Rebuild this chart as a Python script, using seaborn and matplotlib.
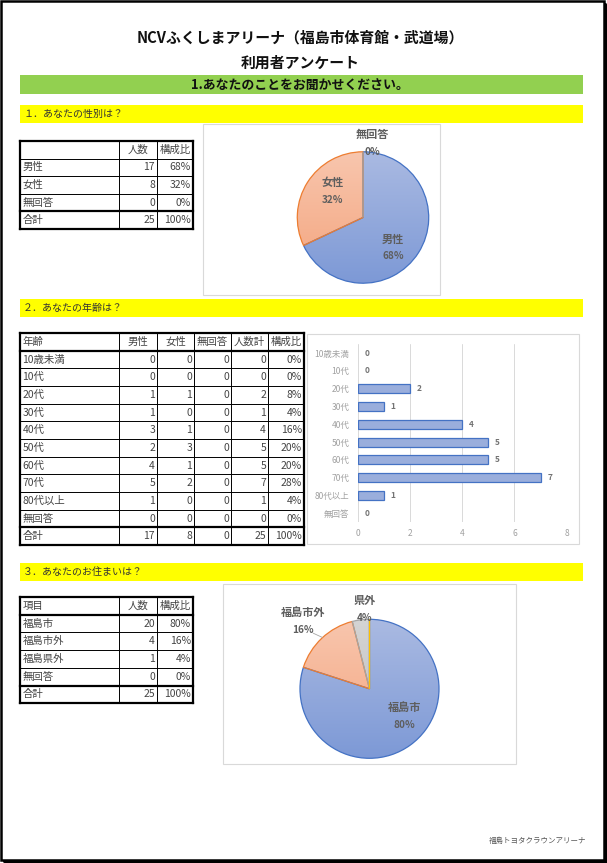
import numpy as np
import matplotlib
matplotlib.use('Agg')
from matplotlib import pyplot as plt
from matplotlib.patches import Rectangle
from matplotlib.colors import LinearSegmentedColormap
import seaborn as sns

# DATA
genders = ['男性', '女性', '無回答']
gender_counts = [17, 8, 0]

ages = ['10歳未満', '10代', '20代', '30代', '40代', '50代', '60代', '70代', '80代以上', '無回答']
age_male = [0, 0, 1, 1, 3, 2, 4, 5, 1, 0]
age_female = [0, 0, 1, 0, 1, 3, 1, 2, 0, 0]
age_noans = [0, 0, 0, 0, 0, 0, 0, 0, 0, 0]

residences = ['福島市', '福島市外', '福島県外', '無回答']
residence_pie_labels = ['福島市', '福島市外', '県外', '無回答']
residence_counts = [20, 4, 1, 0]

sns.set_theme(style='white')
plt.rcParams['font.family'] = ['Noto Sans CJK JP', 'DejaVu Sans']

W, H = 607, 863
fig = plt.figure(figsize=(W / 100, H / 100), dpi=100)
bg = fig.add_axes([0, 0, 1, 1])
bg.set_xlim(0, W)
bg.set_ylim(H, 0)
bg.axis('off')


def frac(x0, y0, x1, y1):
    return [x0 / W, 1 - y1 / H, (x1 - x0) / W, (y1 - y0) / H]


def pct(c, total):
    return f"{round(100 * c / total)}%"


# page frame
bg.add_patch(Rectangle((1.2, 1.2), W - 4.5, H - 4.5, fill=False, ec='black', lw=1.8))
bg.plot([W - 2, W - 2], [4, H - 1], color='black', lw=2.2)
bg.plot([4, W - 1], [H - 2, H - 2], color='black', lw=2.2)

# titles
bg.text(300, 38, 'NCVふくしまアリーナ（福島市体育館・武道場）', ha='center', va='center',
        fontsize=10.7, fontweight='bold', color='#111111')
bg.text(300, 63, '利用者アンケート', ha='center', va='center',
        fontsize=10.7, fontweight='bold', color='#111111')
bg.add_patch(Rectangle((20, 75), 563, 19, color='#92D050', lw=0))
bg.text(300, 84.5, '1.あなたのことをお聞かせください。', ha='center', va='center',
        fontsize=9.3, fontweight='bold', color='#111111')

for y, label in [(105, '１．あなたの性別は？'), (299, '２．あなたの年齢は？'), (563, '３．あなたのお住まいは？')]:
    bg.add_patch(Rectangle((20, y), 563, 18, color='#FFFF00', lw=0))
    bg.text(23, y + 9, label, ha='left', va='center', fontsize=7.2, color='#333333')

bg.text(538, 841, '福島トヨタクラウンアリーナ', ha='center', va='center', fontsize=5.4, color='#555555')

# chart boxes
for x0, y0, x1, y1 in [(203, 124, 440, 295), (307, 334, 579, 544), (223, 584, 516, 764)]:
    bg.add_patch(Rectangle((x0, y0), x1 - x0, y1 - y0, fill=False, ec='#D9D9D9', lw=0.8))


def draw_table(cols, y0, row_h, rows, thick):
    n = len(rows)
    for r, row in enumerate(rows):
        yc = y0 + (r + 0.5) * row_h
        for c, txt in enumerate(row):
            if c == 0:
                bg.text(cols[0] + 2.5, yc, txt, ha='left', va='center', fontsize=7.5, color='#444444')
            elif r == 0:
                bg.text((cols[c] + cols[c + 1]) / 2, yc, txt, ha='center', va='center', fontsize=7.5, color='#444444')
            else:
                bg.text(cols[c + 1] - 2, yc, txt, ha='right', va='center', fontsize=7.5, color='#444444')
    for i in range(n + 1):
        y = y0 + i * row_h
        lw = 1.6 if (i in (0, n) or i in thick) else 0.7
        bg.plot([cols[0], cols[-1]], [y, y], color='black', lw=lw, solid_capstyle='projecting')
    for j, x in enumerate(cols):
        lw = 1.6 if j in (0, len(cols) - 1) else 0.7
        bg.plot([x, x], [y0, y0 + n * row_h], color='black', lw=lw, solid_capstyle='projecting')


# table 1
g_total = sum(gender_counts)
rows1 = [['', '人数', '構成比']]
rows1 += [[g, str(c), pct(c, g_total)] for g, c in zip(genders, gender_counts)]
rows1 += [['合計', str(g_total), '100%']]
draw_table([20, 119, 157, 193], 141, 17.6, rows1, thick=[4])

# table 2
age_totals = [m + f + n for m, f, n in zip(age_male, age_female, age_noans)]
a_total = sum(age_totals)
rows2 = [['年齢', '男性', '女性', '無回答', '人数計', '構成比']]
for a, m, f, n, t in zip(ages, age_male, age_female, age_noans, age_totals):
    rows2.append([a, str(m), str(f), str(n), str(t), pct(t, a_total)])
rows2.append(['合計', str(sum(age_male)), str(sum(age_female)), str(sum(age_noans)), str(a_total), '100%'])
draw_table([20, 119, 157, 194, 231, 268, 304], 333, 17.67, rows2, thick=[1, 11])

# table 3
r_total = sum(residence_counts)
rows3 = [['項目', '人数', '構成比']]
rows3 += [[p, str(c), pct(c, r_total)] for p, c in zip(residences, residence_counts)]
rows3 += [['合計', str(r_total), '100%']]
draw_table([20, 119, 157, 193], 597, 17.7, rows3, thick=[1, 5])

# pies
edge_cols = ['#4472C4', '#ED7D31', '#A5A5A5', '#FFC000']
grads = [('#AABAE2', '#7D99D6'), ('#F8C6AE', '#F4A47D'), ('#D4D4D4', '#BEBEBE'), ('#FFD966', '#FFC000')]
grad = np.linspace(0, 1, 256).reshape(-1, 1)


def draw_pie(cx, cy, r, values, labels, label_pos):
    m = 1.5
    ax = fig.add_axes(frac(cx - m * r, cy - m * r, cx + m * r, cy + m * r))
    wedges, _ = ax.pie(values, startangle=90, counterclock=False, radius=1,
                       wedgeprops=dict(linewidth=0.9))
    for w, ec, (c1, c2) in zip(wedges, edge_cols, grads):
        w.set_facecolor('none')
        w.set_edgecolor(ec)
        im = ax.imshow(grad, cmap=LinearSegmentedColormap.from_list('g', [c1, c2]),
                       extent=(-1, 1, -1, 1), aspect='auto', zorder=0.5)
        im.set_clip_path(w)
    total = sum(values)
    dy = 8.7 / r
    for lab, v, pos in zip(labels, values, label_pos):
        if pos is None:
            continue
        ax.text(pos[0], pos[1] + dy, lab, ha='center', va='center', fontsize=8,
                fontweight='bold', color='#5E5E5E', clip_on=False)
        ax.text(pos[0], pos[1] - dy, pct(v, total), ha='center', va='center', fontsize=7.2,
                fontweight='bold', color='#5E5E5E', clip_on=False)
    ax.set_xlim(-m, m)
    ax.set_ylim(-m, m)
    ax.axis('off')
    ax.patch.set_alpha(0)
    return ax


draw_pie(363, 217.5, 65.7, gender_counts, genders,
         [(0.46, -0.46), (-0.46, 0.40), (0.14, 1.13)])
ax3 = draw_pie(369.5, 688.8, 69.5, residence_counts, residence_pie_labels,
               [(0.50, -0.39), (-0.96, 0.97), (-0.07, 1.14), None])
ax3.plot([-0.81, -0.68], [0.80, 0.74], color='#A6A6A6', lw=0.6)

# bar chart
axb = fig.add_axes(frac(357.7, 344.1, 566.7, 522.2))
sns.barplot(x=age_totals, y=ages, orient='h', color='#9AAEDC', edgecolor='#4472C4',
            linewidth=0.9, width=0.5, saturation=1, ax=axb)
for p in axb.patches:
    if p.get_width() == 0:
        p.set_linewidth(0)
for c in axb.containers:
    axb.bar_label(c, padding=5, fontsize=6, fontweight='bold', color='#737373')
axb.set_xlim(0, 8)
axb.set_ylim(9.5, -0.5)
axb.set_xticks([0, 2, 4, 6, 8])
axb.grid(axis='x', color='#D9D9D9', lw=0.7)
axb.set_axisbelow(True)
for s in axb.spines.values():
    s.set_visible(False)
axb.tick_params(axis='y', length=0, pad=6, labelsize=6.1, labelcolor='#A0A0A0')
axb.tick_params(axis='x', length=0, pad=5, labelsize=6.1, labelcolor='#A0A0A0')
axb.set_xlabel('')
axb.set_ylabel('')
axb.patch.set_alpha(0)

fig.savefig('out.png', dpi=100)
